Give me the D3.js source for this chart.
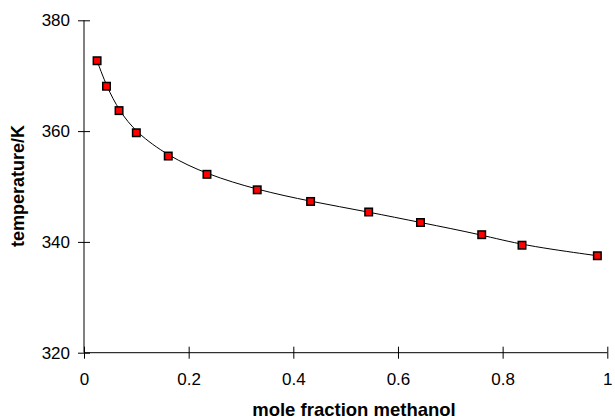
<!DOCTYPE html>
<html><head><meta charset="utf-8">
<script src="https://cdn.jsdelivr.net/npm/d3@7"></script>
<style>html,body{margin:0;padding:0;background:#fff;}svg{display:block;font-family:"Liberation Sans",Arial,sans-serif;}</style>
</head><body>
<svg id="c" width="615" height="419"></svg>
<script>
const moleFraction = [0.025, 0.043, 0.067, 0.100, 0.161, 0.235, 0.331, 0.433, 0.544, 0.643, 0.760, 0.837, 0.981];
const temperature = [372.7, 368.1, 363.7, 359.7, 355.5, 352.2, 349.4, 347.3, 345.4, 343.5, 341.3, 339.4, 337.5];
const xTicks = [0, 0.2, 0.4, 0.6, 0.8, 1];
const yTicks = [320, 340, 360, 380];
const xTitle = "mole fraction methanol";
const yTitle = "temperature/K";

const svg = d3.select("#c");
const x = d3.scaleLinear().domain([0, 1]).range([84, 607.3]);
const y = d3.scaleLinear().domain([320, 380]).range([352.7, 20.3]);

const xAxis = svg.append("g").attr("transform", `translate(0,${y(320)})`)
  .call(d3.axisBottom(x).tickValues(xTicks).tickFormat(d3.format("~g")).tickSizeInner(6).tickSizeOuter(0).tickPadding(14));
xAxis.selectAll(".tick line").attr("y1", -6);
const yAxis = svg.append("g").attr("transform", `translate(${x(0)},0)`)
  .call(d3.axisLeft(y).tickValues(yTicks).tickSizeInner(6).tickSizeOuter(0).tickPadding(8));
yAxis.selectAll(".tick line").attr("x1", 6);
[xAxis, yAxis].forEach(a => {
  a.selectAll("text").attr("font-size", 17).attr("font-family", "Liberation Sans, Arial, sans-serif").attr("fill", "#000");
  a.selectAll("line,path").attr("stroke", "#000");
});
xAxis.select(".domain").attr("d", `M${x(0)},0H${x(1)}`);
yAxis.select(".domain").attr("d", `M0,${y(320)}V${y(380)}`);

svg.append("text").attr("x", 354).attr("y", 415.5).attr("text-anchor", "middle")
  .attr("font-size", 18.5).attr("font-weight", "bold").text(xTitle);
svg.append("text").attr("transform", "translate(23.5,186) rotate(-90)").attr("text-anchor", "middle")
  .attr("font-size", 18).attr("font-weight", "bold").text(yTitle);

const pts = moleFraction.map((m, i) => [m, temperature[i]]);
svg.append("path").datum(pts)
  .attr("d", d3.line().x(d => x(d[0])).y(d => y(d[1])).curve(d3.curveBasis))
  .attr("fill", "none").attr("stroke", "#000").attr("stroke-width", 1);

svg.append("g").selectAll("rect").data(pts).join("rect")
  .attr("x", d => x(d[0]) - 3.75).attr("y", d => y(d[1]) - 3.75)
  .attr("width", 7.5).attr("height", 7.5)
  .attr("fill", "#ff0000").attr("stroke", "#000").attr("stroke-width", 1.5);
</script>
</body></html>
